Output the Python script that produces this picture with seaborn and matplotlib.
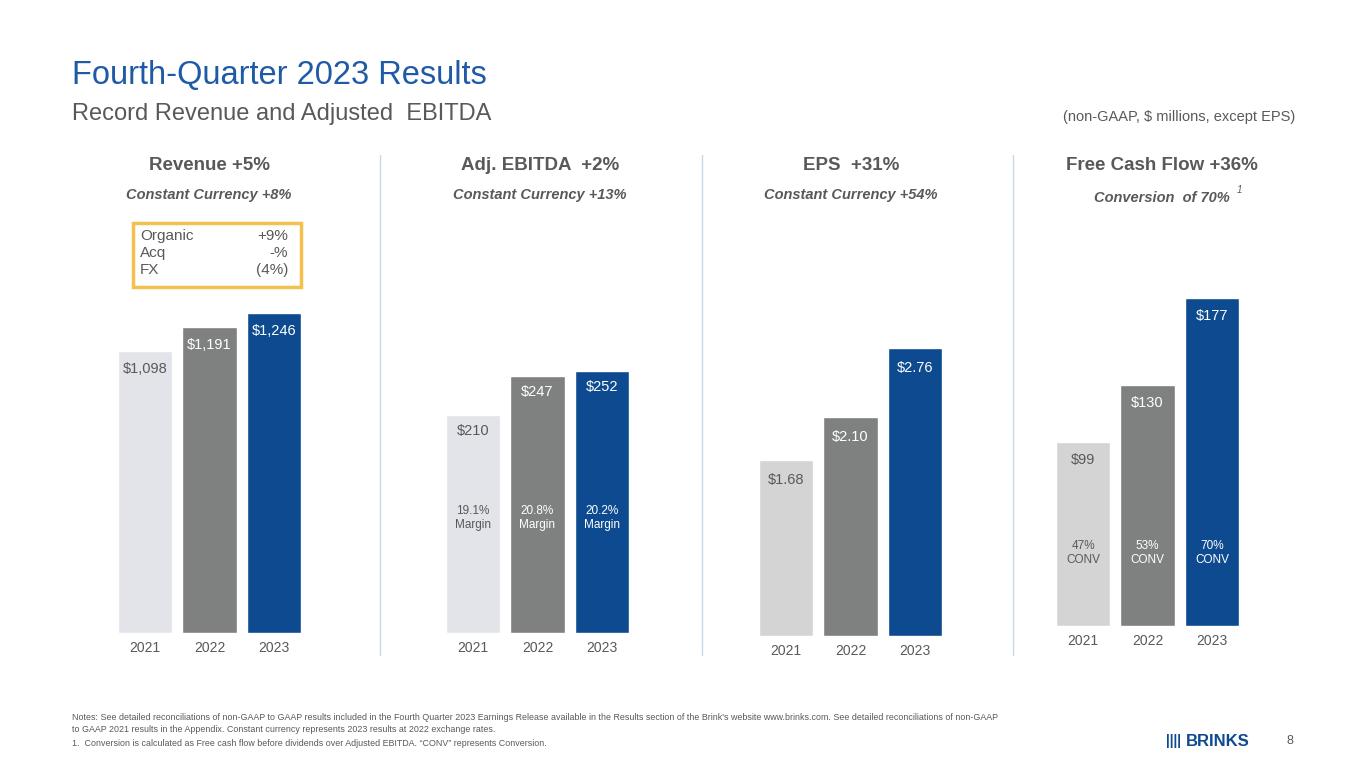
import matplotlib
matplotlib.use("Agg")
import matplotlib.pyplot as plt
import seaborn as sns
import pandas as pd
from matplotlib.patches import Rectangle

sns.set_theme(style="white")
plt.rcParams['font.family'] = ['Liberation Sans', 'DejaVu Sans']

W, H = 1365, 768
years = ["2021", "2022", "2023"]
revenue = [1098, 1191, 1246]
ebitda = [210, 247, 252]
eps = [1.68, 2.10, 2.76]
fcf = [99, 130, 177]
rev_labels = ["$1,098", "$1,191", "$1,246"]
ebitda_labels = ["$210", "$247", "$252"]
eps_labels = ["$1.68", "$2.10", "$2.76"]
fcf_labels = ["$99", "$130", "$177"]
margins = ["19.1%\nMargin", "20.8%\nMargin", "20.2%\nMargin"]
conv = ["47%\nCONV", "53%\nCONV", "70%\nCONV"]
headers = ["Revenue +5%", "Adj. EBITDA  +2%", "EPS  +31%", "Free Cash Flow +36%"]
subheaders = ["Constant Currency +8%", "Constant Currency +13%", "Constant Currency +54%", "Conversion  of 70%"]

GRAY_TXT = "#595959"
BLUE = "#0d4a8f"
DARK = "#7f8080"

fig = plt.figure(figsize=(W / 100, H / 100), dpi=100)


def ft(x, y, s, **kw):
    fig.text(x / W, 1 - y / H, s, **kw)


# panel: values, labels, center of first bar, baseline px, px per unit, light colour, label offset
panels = [
    (revenue, rev_labels, 145, 633, 0.257, "#e2e4e9", 18),
    (ebitda, ebitda_labels, 473, 633, 1.04, "#e2e4e9", 16),
    (eps, eps_labels, 786, 636, 104.5, "#d4d4d5", 20),
    (fcf, fcf_labels, 1083, 626, 1.855, "#d4d4d5", 18),
]
spacing = 64.5
for i, (vals, labs, c0, base, scale, light, off) in enumerate(panels):
    top = 140
    h = base - top
    left = c0 - spacing * 0.5
    ax = fig.add_axes([left / W, 1 - base / H, spacing * 3 / W, h / H])
    df = pd.DataFrame({"year": years, "value": vals})
    sns.barplot(data=df, x="year", y="value", hue="year", palette=[light, DARK, BLUE],
                width=0.85, legend=False, ax=ax, saturation=1)
    ax.set_xlim(-0.5, 2.5)
    ax.set_ylim(0, h / scale)
    ax.axis("off")
    for j, v in enumerate(vals):
        col = GRAY_TXT if j == 0 else "white"
        ax.text(j, v - off / scale, labs[j], ha="center", va="center", color=col, fontsize=10.5)
        ax.text(j, -15 / scale, years[j], ha="center", va="center", color=GRAY_TXT,
                fontsize=10, clip_on=False)
    if i == 1:
        for j in range(3):
            ax.text(j, (base - 518) / scale, margins[j], ha="center", va="center",
                    color=GRAY_TXT if j == 0 else "white", fontsize=8.5, linespacing=1.3)
    if i == 3:
        for j in range(3):
            ax.text(j, (base - 553) / scale, conv[j], ha="center", va="center",
                    color=GRAY_TXT if j == 0 else "white", fontsize=8.5, linespacing=1.3)

centers = [209, 540, 851, 1162]
for c, hd, sh in zip(centers, headers, subheaders):
    ft(c, 165, hd, ha="center", va="center", fontsize=13.5, fontweight="bold", color=GRAY_TXT)
    ft(c, 195 if c != 1162 else 198, sh, ha="center", va="center", fontsize=10.5,
       fontweight="bold", fontstyle="italic", color=GRAY_TXT)
ft(1237, 190, "1", ha="left", va="center", fontsize=7, fontstyle="italic", color=GRAY_TXT)

for x in [380, 702, 1013]:
    fig.add_artist(plt.Line2D([x / W, x / W], [1 - 155 / H, 1 - 655 / H], color="#c9d7ea", lw=1))

# organic box
fig.add_artist(Rectangle((133 / W, 1 - 287 / H), 168 / W, 64 / H, fill=False,
                         edgecolor="#f2c14e", lw=2.5))
for y, a, b in [(236, "Organic", "+9%"), (253, "Acq", "-%"), (270, "FX", "(4%)")]:
    ft(140, y, a, ha="left", va="center", fontsize=11, color=GRAY_TXT)
    ft(288, y, b, ha="right", va="center", fontsize=11, color=GRAY_TXT)

ft(72, 75, "Fourth-Quarter 2023 Results", ha="left", va="center", fontsize=23.5, color="#1f5aa6")
ft(72, 114, "Record Revenue and Adjusted  EBITDA", ha="left", va="center", fontsize=17, color=GRAY_TXT)
ft(1295, 117, "(non-GAAP, $ millions, except EPS)", ha="right", va="center", fontsize=10.5, color=GRAY_TXT)

ft(72, 717, "Notes: See detailed reconciliations of non-GAAP to GAAP results included in the Fourth Quarter 2023 Earnings Release available in the Results section of the Brink's website www.brinks.com. See detailed reconciliations of non-GAAP",
   ha="left", va="center", fontsize=6.4, color=GRAY_TXT)
ft(72, 729, "to GAAP 2021 results in the Appendix. Constant currency represents 2023 results at 2022 exchange rates.",
   ha="left", va="center", fontsize=6.4, color=GRAY_TXT)
ft(72, 743, "1.  Conversion is calculated as Free cash flow before dividends over Adjusted EBITDA. \u201cCONV\u201d represents Conversion.",
   ha="left", va="center", fontsize=6.4, color=GRAY_TXT)
ft(1290, 741, "8", ha="center", va="center", fontsize=9, color=GRAY_TXT)
ft(1166, 741, "||||", ha="left", va="center", fontsize=10, color=BLUE, fontweight="bold")
ft(1186, 741, "BRINKS", ha="left", va="center", fontsize=12, color=BLUE, fontweight="bold")

fig.savefig("out.png", dpi=100)
